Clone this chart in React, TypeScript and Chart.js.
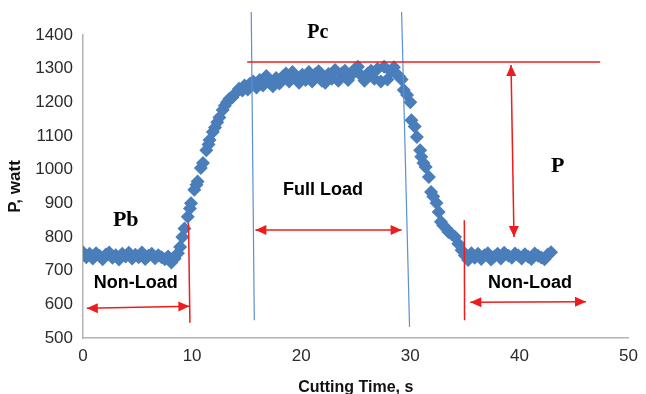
import React, { useEffect, useRef } from "react";
import { Chart, registerables } from "chart.js";

Chart.register(...registerables);

// ---- data (time in s, power in W) ----
const noLoad1Time = [0, 0.3, 0.6, 0.9, 1.2, 1.5, 1.8, 2.1, 2.4, 2.7, 3.0, 3.3, 3.6, 3.9, 4.2, 4.5, 4.8, 5.1, 5.4, 5.7, 6.0, 6.3, 6.6, 6.9, 7.2, 7.5, 7.8, 8.1, 8.4, 8.7];
const noLoad1Power = [755, 740, 750, 736, 752, 744, 734, 748, 754, 738, 746, 733, 750, 742, 753, 736, 747, 740, 754, 735, 744, 750, 737, 746, 740, 734, 742, 724, 736, 752];

const riseTime = [8.9, 9.1, 9.3, 9.6, 9.8, 9.9, 10.2, 10.4, 10.5, 10.8, 11.0, 11.3, 11.5, 11.6, 11.9, 12.1, 12.3, 12.5, 12.8, 13.0, 13.2, 13.4, 13.7, 14.0, 14.3, 14.6, 14.8, 15.1, 15.3];
const risePower = [770, 800, 825, 860, 885, 900, 940, 955, 965, 1005, 1020, 1058, 1075, 1088, 1112, 1125, 1141, 1155, 1177, 1190, 1200, 1210, 1215, 1228, 1240, 1235, 1250, 1238, 1255];

const fullLoadTime = [15.6, 15.9, 16.2, 16.5, 16.8, 17.1, 17.4, 17.7, 18.0, 18.3, 18.6, 18.9, 19.2, 19.5, 19.8, 20.1, 20.4, 20.7, 21.0, 21.3, 21.6, 21.9, 22.2, 22.5, 22.8, 23.1, 23.4, 23.7, 24.0, 24.3, 24.6, 24.9, 25.2, 25.5, 25.8, 26.1, 26.4, 26.7, 27.0, 27.3, 27.6, 27.9, 28.2, 28.5, 28.8, 29.0];
const fullLoadPower = [1262, 1244, 1266, 1250, 1278, 1258, 1248, 1272, 1256, 1276, 1286, 1262, 1290, 1272, 1258, 1282, 1266, 1290, 1262, 1284, 1292, 1264, 1258, 1284, 1270, 1296, 1264, 1286, 1294, 1266, 1282, 1298, 1306, 1280, 1264, 1286, 1294, 1270, 1300, 1262, 1306, 1268, 1292, 1304, 1282, 1276];

const fallTime = [29.2, 29.4, 29.7, 30.0, 30.1, 30.4, 30.6, 30.9, 31.0, 31.2, 31.4, 31.7, 31.9, 32.1, 32.4, 32.6, 32.8, 33.0, 33.3, 33.5, 33.8, 34.1, 34.4, 34.7, 35.0, 35.3];
const fallPower = [1268, 1237, 1222, 1200, 1147, 1128, 1097, 1058, 1038, 1020, 1008, 978, 934, 920, 901, 874, 845, 835, 825, 815, 808, 800, 780, 761, 745, 732];

const noLoad2Time = [35.6, 35.9, 36.2, 36.5, 36.8, 37.1, 37.4, 37.7, 38.0, 38.3, 38.6, 39.0, 39.3, 39.6, 39.9, 40.2, 40.5, 40.8, 41.1, 41.4, 41.7, 42.0, 42.3, 42.6, 42.9];
const noLoad2Power = [752, 738, 750, 735, 746, 752, 733, 742, 750, 736, 753, 744, 738, 751, 745, 736, 749, 741, 735, 751, 744, 739, 734, 748, 755];

const xTicks = [0, 10, 20, 30, 40, 50];
const yTicks = [500, 600, 700, 800, 900, 1000, 1100, 1200, 1300, 1400];

// ---- annotations (data units) ----
const blueLines = [
  [[15.42, 1468], [15.7, 553]],
  [[29.2, 1468], [29.93, 533]],
];
const redLines = [
  [[15.05, 1320], [47.4, 1320]],
  [[9.67, 842], [9.8, 545]],
  [[34.95, 850], [34.97, 553]],
];
const redArrows = [
  [[0.35, 588], [9.75, 594]],
  [[15.8, 821], [29.2, 821]],
  [[35.5, 606], [46.1, 608]],
  [[39.23, 1311], [39.5, 800]],
];
const serifLabels = [
  { text: "Pc", at: [21.53, 1406], size: 20 },
  { text: "Pb", at: [3.92, 850], size: 22 },
  { text: "P", at: [43.5, 1011], size: 22 },
];
const sansLabels = [
  { text: "Full Load", at: [22.0, 940] },
  { text: "Non-Load", at: [4.84, 663] },
  { text: "Non-Load", at: [40.97, 663] },
];

const RED = "#ee1c1c";
const BLUE_LINE = "#5b8fd6";
const POINT = "#4a7ebb";

const annotPlugin = {
  id: "annot",
  afterDatasetsDraw(chart: any) {
    const { ctx, scales } = chart;
    const X = (v: number) => scales.x.getPixelForValue(v);
    const Y = (v: number) => scales.y.getPixelForValue(v);
    ctx.save();
    const seg = (a: number[], b: number[], color: string, w: number) => {
      ctx.beginPath();
      ctx.strokeStyle = color;
      ctx.lineWidth = w;
      ctx.moveTo(X(a[0]), Y(a[1]));
      ctx.lineTo(X(b[0]), Y(b[1]));
      ctx.stroke();
    };
    blueLines.forEach(([a, b]) => seg(a, b, BLUE_LINE, 1.2));
    redLines.forEach(([a, b]) => seg(a, b, RED, 1.5));
    const head = (tip: number[], from: number[]) => {
      const tx = X(tip[0]), ty = Y(tip[1]);
      const fx = X(from[0]), fy = Y(from[1]);
      const ang = Math.atan2(ty - fy, tx - fx);
      const L = 11, H = 5;
      ctx.beginPath();
      ctx.fillStyle = RED;
      ctx.moveTo(tx, ty);
      ctx.lineTo(tx - L * Math.cos(ang) + H * Math.sin(ang), ty - L * Math.sin(ang) - H * Math.cos(ang));
      ctx.lineTo(tx - L * Math.cos(ang) - H * Math.sin(ang), ty - L * Math.sin(ang) + H * Math.cos(ang));
      ctx.closePath();
      ctx.fill();
    };
    redArrows.forEach(([a, b]) => {
      seg(a, b, RED, 1.5);
      head(a, b);
      head(b, a);
    });
    ctx.textAlign = "center";
    ctx.textBaseline = "middle";
    ctx.fillStyle = "#000";
    serifLabels.forEach((l) => {
      ctx.font = `bold ${l.size}px "Liberation Serif", "DejaVu Serif", serif`;
      ctx.fillText(l.text, X(l.at[0]), Y(l.at[1]));
    });
    ctx.font = `bold 18px "Liberation Sans", Arial, sans-serif`;
    sansLabels.forEach((l) => {
      ctx.fillText(l.text, X(l.at[0]), Y(l.at[1]));
    });
    ctx.restore();
  },
};

export default function App() {
  const ref = useRef<HTMLCanvasElement | null>(null);
  useEffect(() => {
    if (!ref.current) return;
    const times = [...noLoad1Time, ...riseTime, ...fullLoadTime, ...fallTime, ...noLoad2Time];
    const powers = [...noLoad1Power, ...risePower, ...fullLoadPower, ...fallPower, ...noLoad2Power];
    const data = times.map((t, i) => ({ x: t, y: powers[i] }));
    const tickFont = { family: '"Liberation Sans", Arial, sans-serif', size: 17 };
    const chart = new Chart(ref.current, {
      type: "scatter",
      data: {
        datasets: [
          {
            label: "P",
            data,
            pointStyle: "rectRot",
            pointRadius: 7,
            pointBackgroundColor: POINT,
            pointBorderColor: POINT,
            pointBorderWidth: 0,
            showLine: false,
          },
        ],
      },
      options: {
        animation: false,
        responsive: false,
        devicePixelRatio: 1,
        layout: { padding: { left: 0, right: 15, top: 35, bottom: 0 } },
        plugins: { legend: { display: false }, tooltip: { enabled: false } },
        scales: {
          x: {
            type: "linear",
            min: 0,
            max: 50,
            afterBuildTicks: (s: any) => { s.ticks = xTicks.map((v) => ({ value: v })); },
            afterFit: (s: any) => { s.height = 56; },
            grid: { display: false, drawTicks: false },
            border: { display: true, color: "#b3b3b3", width: 1.5 },
            ticks: { font: tickFont, color: "#2b2b2b", padding: 8, callback: (v: any) => String(v) },
            title: {
              display: true,
              text: "Cutting Time, s",
              color: "#111",
              font: { family: '"Liberation Sans", Arial, sans-serif', size: 16, weight: "bold", lineHeight: 0.8 },
              padding: { top: 0, bottom: 0 },
            },
          },
          y: {
            type: "linear",
            min: 500,
            max: 1400,
            afterBuildTicks: (s: any) => { s.ticks = yTicks.map((v) => ({ value: v })); },
            afterFit: (s: any) => { s.width = 83; },
            grid: { display: false, drawTicks: false },
            border: { display: true, color: "#b3b3b3", width: 1.5 },
            ticks: { font: tickFont, color: "#2b2b2b", padding: 10, callback: (v: any) => String(v) },
            title: {
              display: true,
              text: "P, watt",
              color: "#111",
              font: { family: '"Liberation Sans", Arial, sans-serif', size: 17, weight: "bold", lineHeight: 1.2 },
              padding: { top: 5, bottom: 0 },
            },
          },
        },
      },
      plugins: [annotPlugin],
    } as any);
    return () => chart.destroy();
  }, []);
  return (
    <div style={{ position: "absolute", left: 0, top: 0, width: 646, height: 394, background: "#fff" }}>
      <canvas ref={ref} width={646} height={394} style={{ display: "block" }} />
    </div>
  );
}
